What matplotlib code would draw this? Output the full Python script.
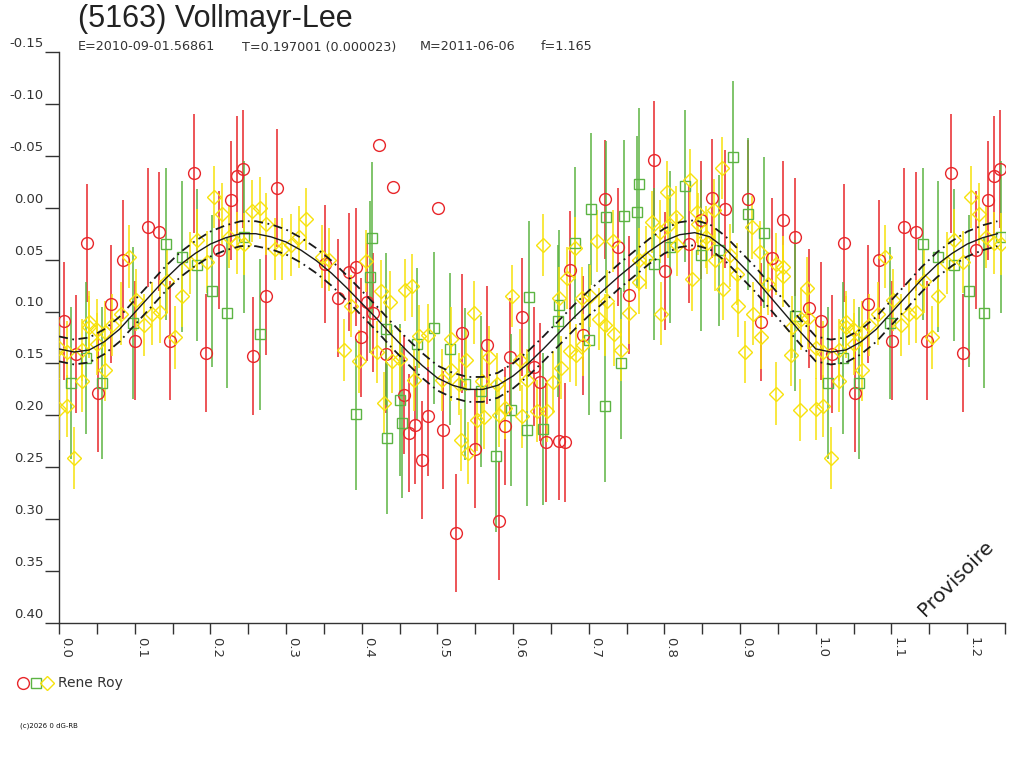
import numpy as np
import matplotlib
matplotlib.use("Agg")
import matplotlib.pyplot as plt
from matplotlib.lines import Line2D
import matplotlib.transforms as mtransforms

# ---------------- data ----------------
red_phase = [0.007, 0.022, 0.037, 0.052, 0.069, 0.084, 0.101, 0.117, 0.132, 0.147,
             0.179, 0.194, 0.212, 0.227, 0.235, 0.243, 0.257, 0.273, 0.288, 0.352,
             0.368, 0.383, 0.392, 0.399, 0.407, 0.415, 0.432, 0.456, 0.463, 0.471,
             0.479, 0.487, 0.508, 0.525, 0.533, 0.550, 0.566, 0.581, 0.589, 0.596,
             0.612, 0.628, 0.635, 0.643, 0.661, 0.669, 0.675, 0.692, 0.721, 0.738,
             0.753, 0.786, 0.801, 0.833, 0.848, 0.863, 0.880, 0.911, 0.927, 0.942,
             0.957, 0.973, 0.991]
red_mag = [0.109, 0.141, 0.034, 0.178, 0.093, 0.050, 0.128, 0.019, 0.023, 0.128,
           -0.033, 0.140, 0.041, -0.007, -0.031, -0.037, 0.143, 0.085, -0.019, 0.054,
           0.087, 0.062, 0.057, 0.125, 0.091, 0.101, 0.141, 0.180, 0.217, 0.209,
           0.243, 0.201, 0.214, 0.313, 0.121, 0.232, 0.132, 0.302, 0.210, 0.144,
           0.105, 0.153, 0.168, 0.226, 0.225, 0.226, 0.060, 0.123, -0.008, 0.038,
           0.084, -0.046, 0.061, 0.035, 0.012, -0.009, 0.001, -0.008, 0.110, 0.048,
           0.012, 0.028, 0.097]
red_err = 0.057
# red points drawn without error bar
red_nobar_phase = [0.423, 0.441, 0.501]
red_nobar_mag = [-0.060, -0.020, 0.000]

green_phase = [0.016, 0.036, 0.057, 0.098, 0.141, 0.162, 0.182, 0.202, 0.222, 0.245,
               0.266, 0.392, 0.411, 0.413, 0.432, 0.433, 0.451, 0.453, 0.473, 0.496,
               0.517, 0.537, 0.557, 0.577, 0.597, 0.619, 0.621, 0.639, 0.660, 0.661,
               0.682, 0.700, 0.703, 0.721, 0.723, 0.743, 0.746, 0.764, 0.766, 0.786,
               0.807, 0.827, 0.848, 0.872, 0.891, 0.911, 0.932, 0.972]
green_mag = [0.169, 0.145, 0.169, 0.111, 0.035, 0.047, 0.055, 0.080, 0.101, 0.028,
             0.122, 0.199, 0.067, 0.029, 0.117, 0.222, 0.185, 0.207, 0.131, 0.116,
             0.136, 0.170, 0.177, 0.239, 0.195, 0.214, 0.086, 0.213, 0.109, 0.094,
             0.034, 0.127, 0.001, 0.191, 0.009, 0.150, 0.008, 0.004, -0.023, 0.054,
             0.038, -0.021, 0.046, 0.041, -0.049, 0.006, 0.024, 0.104]
green_err = 0.073

yellow_phase = [0.000, 0.000, 0.010, 0.010, 0.020, 0.030, 0.031, 0.040, 0.040, 0.050,
                0.050, 0.061, 0.061, 0.070, 0.082, 0.092, 0.102, 0.112, 0.123, 0.133,
                0.143, 0.153, 0.162, 0.173, 0.183, 0.195, 0.205, 0.215, 0.225, 0.235,
                0.245, 0.255, 0.265, 0.274, 0.285, 0.295, 0.307, 0.317, 0.327, 0.347,
                0.357, 0.377, 0.386, 0.397, 0.406, 0.420, 0.426, 0.430, 0.437, 0.440,
                0.450, 0.457, 0.467, 0.469, 0.476, 0.487, 0.506, 0.518, 0.518, 0.528,
                0.531, 0.538, 0.541, 0.548, 0.552, 0.559, 0.562, 0.568, 0.579, 0.581,
                0.589, 0.599, 0.609, 0.612, 0.618, 0.632, 0.640, 0.645, 0.653, 0.661,
                0.663, 0.671, 0.675, 0.682, 0.683, 0.691, 0.693, 0.701, 0.711, 0.713,
                0.722, 0.724, 0.732, 0.733, 0.743, 0.753, 0.766, 0.766, 0.775, 0.784,
                0.794, 0.795, 0.803, 0.805, 0.815, 0.816, 0.834, 0.836, 0.843, 0.845,
                0.855, 0.856, 0.865, 0.867, 0.876, 0.877, 0.887, 0.896, 0.897, 0.907,
                0.916, 0.917, 0.926, 0.927, 0.937, 0.947, 0.948, 0.957, 0.957, 0.967,
                0.969, 0.979, 0.981, 0.989, 0.990]
yellow_mag = [0.135, 0.194, 0.191, 0.139, 0.241, 0.137, 0.167, 0.110, 0.115, 0.118,
              0.131, 0.120, 0.156, 0.113, 0.102, 0.047, 0.089, 0.113, 0.102, 0.100,
              0.071, 0.125, 0.085, 0.053, 0.031, 0.052, -0.010, 0.006, 0.028, 0.034,
              0.035, 0.003, 0.000, 0.016, 0.040, 0.040, 0.036, 0.028, 0.011, 0.047,
              0.050, 0.137, 0.095, 0.148, 0.051, 0.139, 0.080, 0.188, 0.091, 0.148,
              0.146, 0.079, 0.075, 0.166, 0.124, 0.123, 0.166, 0.126, 0.156, 0.170,
              0.224, 0.147, 0.236, 0.101, 0.204, 0.167, 0.202, 0.144, 0.170, 0.200,
              0.193, 0.085, 0.147, 0.201, 0.166, 0.196, 0.036, 0.196, 0.168, 0.087,
              0.154, 0.068, 0.138, 0.039, 0.142, 0.087, 0.132, 0.085, 0.032, 0.107,
              0.113, 0.090, 0.032, 0.122, 0.137, 0.101, 0.072, 0.050, 0.048, 0.014,
              0.023, 0.102, -0.015, 0.018, 0.009, 0.036, -0.027, 0.069, 0.004, 0.016,
              0.028, 0.034, 0.002, 0.050, -0.038, 0.078, 0.046, 0.064, 0.095, 0.139,
              0.019, 0.102, 0.043, 0.125, 0.073, 0.179, 0.054, 0.057, 0.066, 0.142,
              0.115, 0.195, 0.107, 0.077, 0.106]
yellow_err = 0.030

# fitted light curve (read at 0.02 phase steps) and its uncertainty band
fit_phase = [0.00, 0.02, 0.04, 0.06, 0.08, 0.10, 0.12, 0.14, 0.16, 0.18,
             0.20, 0.22, 0.24, 0.26, 0.28, 0.30, 0.32, 0.34, 0.36, 0.38,
             0.40, 0.42, 0.44, 0.46, 0.48, 0.50, 0.52, 0.54, 0.56, 0.58,
             0.60, 0.62, 0.64, 0.66, 0.68, 0.70, 0.72, 0.74, 0.76, 0.78,
             0.80, 0.82, 0.84, 0.86, 0.88, 0.90, 0.92, 0.94, 0.96, 0.98, 1.00]
fit_mag = [0.136, 0.139, 0.137, 0.129, 0.117, 0.101, 0.085, 0.069, 0.055, 0.044,
           0.035, 0.029, 0.025, 0.025, 0.028, 0.033, 0.041, 0.051, 0.063, 0.077,
           0.092, 0.107, 0.123, 0.138, 0.152, 0.164, 0.171, 0.175, 0.175, 0.171,
           0.162, 0.150, 0.136, 0.121, 0.106, 0.092, 0.079, 0.066, 0.054, 0.042,
           0.032, 0.026, 0.024, 0.028, 0.039, 0.054, 0.069, 0.086, 0.103, 0.120, 0.136]
fit_sigma = 0.012

title = "(5163) Vollmayr-Lee"
subtitle_parts = ["E=2010-09-01.56861", "T=0.197001 (0.000023)", "M=2011-06-06", "f=1.165"]
observer = "Rene Roy"
yticks = [-0.15, -0.10, -0.05, 0.00, 0.05, 0.10, 0.15, 0.20, 0.25, 0.30, 0.35, 0.40]
xticks_major = [0.0, 0.1, 0.2, 0.3, 0.4, 0.5, 0.6, 0.7, 0.8, 0.9, 1.0, 1.1, 1.2]
xticks_minor = [0.05, 0.15, 0.25, 0.35, 0.45, 0.55, 0.65, 0.75, 0.85, 0.95, 1.05, 1.15, 1.25]

# ---------------- styling ----------------
RED = "#e8262a"
GREEN = "#5cb443"
YELLOW = "#f7e20c"
INK = "#333333"
XMAX = 1.25

plt.rcParams['font.family'] = ['DejaVu Sans']

fig = plt.figure(figsize=(10.24, 7.68), dpi=100)
W, H = 1024, 768
ax = fig.add_axes([59 / W, 1 - 623 / H, (1005 - 59) / W, (623 - 52) / H])


def fold(ph, mg):
    ph = np.asarray(ph, float)
    mg = np.asarray(mg, float)
    ext = ph + 1.0
    keep = ext <= XMAX + 1e-9
    return np.concatenate([ph, ext[keep]]), np.concatenate([mg, mg[keep]])


# fitted curve
fp, fm = np.asarray(fit_phase), np.asarray(fit_mag)
fpx = np.concatenate([fp, fp[1:] + 1.0])
fmx = np.concatenate([fm, fm[1:]])
m = fpx <= XMAX + 1e-9
fpx, fmx = fpx[m], fmx[m]
ax.plot(fpx, fmx, color="#1a1a1a", lw=1.0, zorder=5)
ax.plot(fpx, fmx - fit_sigma, color="#1a1a1a", lw=1.3, ls=(0, (5, 2.5, 1, 2.5)), zorder=5)
ax.plot(fpx, fmx + fit_sigma, color="#1a1a1a", lw=1.3, ls=(0, (5, 2.5, 1, 2.5)), zorder=5)

series = [
    (red_phase, red_mag, red_err, RED, "o", 8.5),
    (green_phase, green_mag, green_err, GREEN, "s", 6.5),
    (yellow_phase, yellow_mag, yellow_err, YELLOW, "D", 7.0),
]
for ph, mg, err, col, mk, ms in series:
    x, y = fold(ph, mg)
    ax.errorbar(x, y, yerr=err, fmt="none", ecolor=col, elinewidth=1.1, capsize=0, zorder=3)
    ax.plot(x, y, ls="none", marker=mk, ms=ms, mfc="none", mec=col, mew=1.0, zorder=4)

xn, yn = fold(red_nobar_phase, red_nobar_mag)
ax.plot(xn, yn, ls="none", marker="o", ms=8.5, mfc="none", mec=RED, mew=1.0, zorder=4)

# axes
ax.set_xlim(0, XMAX)
ax.set_ylim(0.40, -0.15)
for s in ("top", "right"):
    ax.spines[s].set_visible(False)
for s in ("left", "bottom"):
    ax.spines[s].set_color(INK)
    ax.spines[s].set_linewidth(1.0)

ax.set_yticks(yticks)
ax.set_yticklabels([f"{round(v, 2) + 0.0:.2f}" for v in yticks])
ax.tick_params(axis="y", direction="out", length=10, width=1.0, color=INK,
               labelsize=9.5, labelcolor=INK, pad=1)
offset = mtransforms.ScaledTranslation(0, 1.5 / 72, fig.dpi_scale_trans)
for lbl in ax.get_yticklabels():
    lbl.set_verticalalignment("bottom")
    lbl.set_transform(lbl.get_transform() + offset)

ax.set_xticks(xticks_major)
ax.set_xticks(xticks_minor, minor=True)
ax.set_xticklabels([f"{v:.1f}" for v in xticks_major], rotation=-90, ha="left", va="top")
ax.tick_params(axis="x", which="both", direction="out", length=8, width=1.0, color=INK,
               labelsize=9.5, labelcolor=INK, pad=2)

# texts
fig.text(78 / W, 1 - 19 / H, title, fontsize=22, color="#222222",
         family=["Liberation Sans", "DejaVu Sans"], va="center", ha="left")
for xpos, txt in zip([78, 242, 420, 541], subtitle_parts):
    fig.text(xpos / W, 1 - 47 / H, txt, fontsize=9.2, color=INK, va="center", ha="left")

fig.text(956 / W, 1 - 578 / H, "Provisoire", fontsize=14.5, color="#222222",
         rotation=45, ha="center", va="center")

# legend
for xpos, mk, col, ms in [(23, "o", RED, 8.5), (36, "s", GREEN, 6.5), (47, "D", YELLOW, 7.0)]:
    fig.add_artist(Line2D([xpos / W], [1 - 683 / H], transform=fig.transFigure, ls="none",
                          marker=mk, ms=ms, mfc="none", mec=col, mew=1.0))
fig.text(58 / W, 1 - 683 / H, observer, fontsize=10, color=INK, va="center", ha="left")

fig.text(20 / W, 1 - 726 / H, "(c)2026 0 dG-RB", fontsize=5, color="#111111",
         va="center", ha="left")

fig.savefig("out.png", dpi=100)
